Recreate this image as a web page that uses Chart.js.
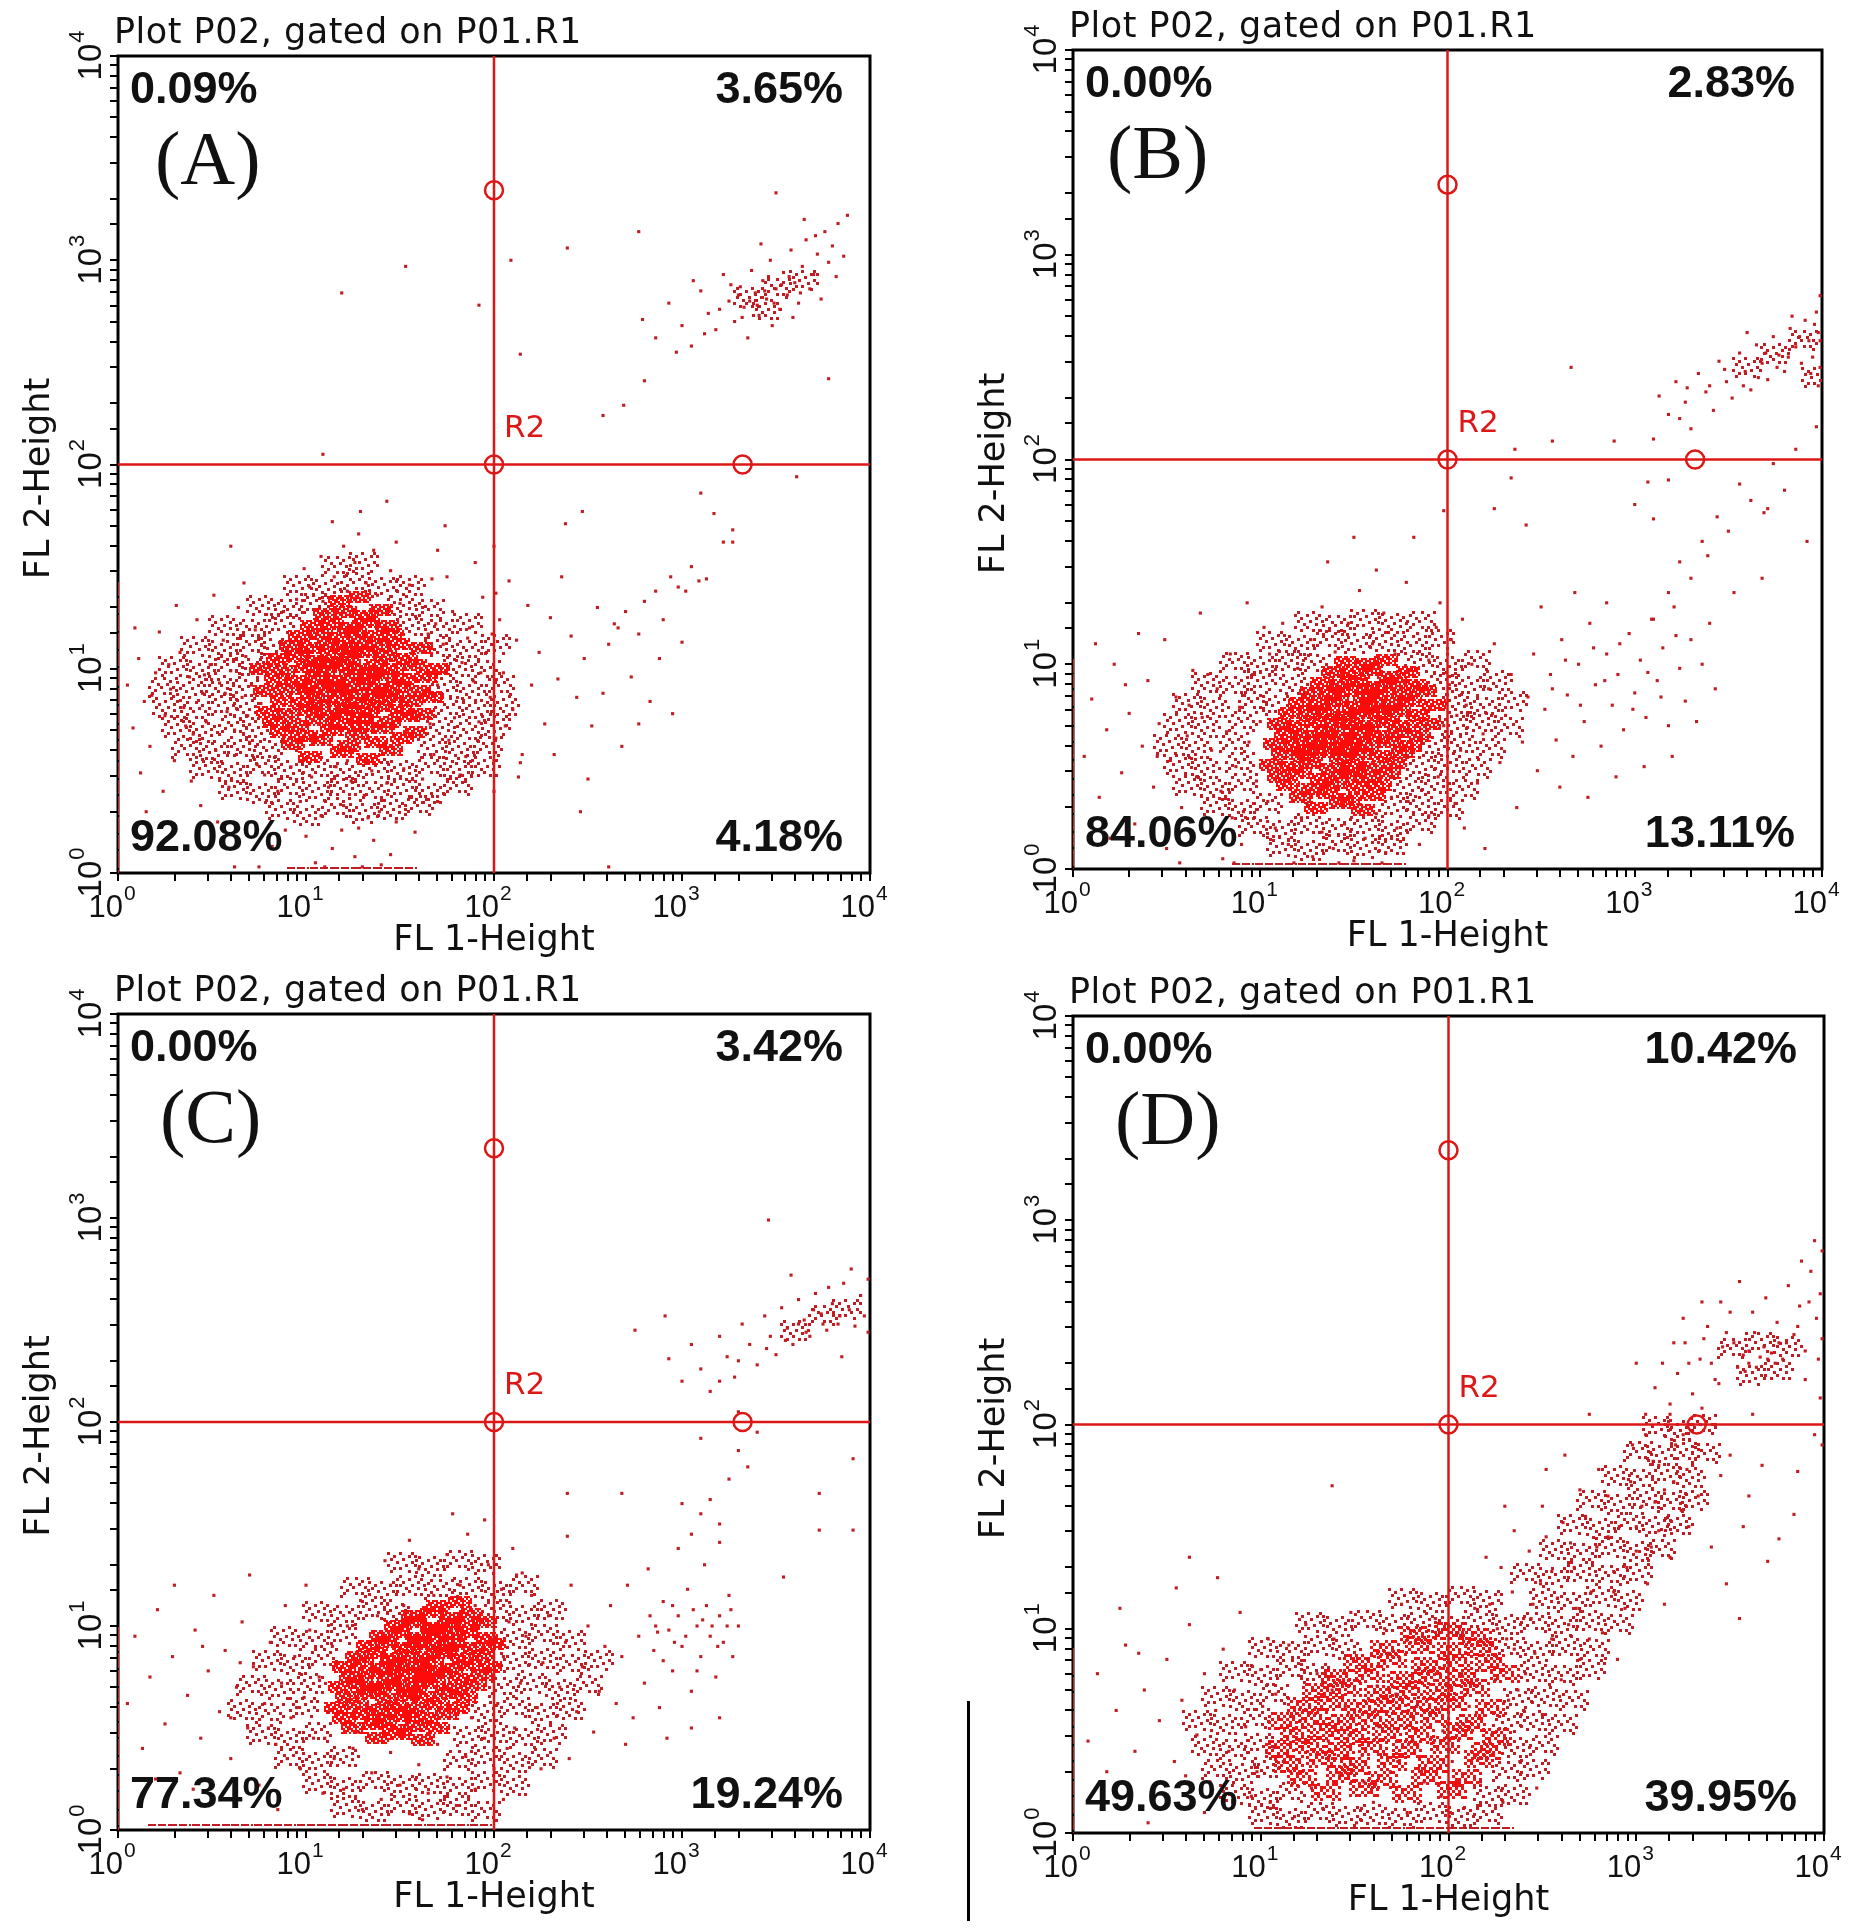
<!DOCTYPE html>
<html>
<head>
<meta charset="utf-8">
<title>Plot P02, gated on P01.R1</title>
<script src="https://cdn.jsdelivr.net/npm/chart.js@4.4.0/dist/chart.umd.min.js"></script>
<style>
  html, body { margin: 0; padding: 0; background: #fff; }
  body { width: 1854px; height: 1930px; position: relative; overflow: hidden; }
  canvas { position: absolute; }
  #stray { position: absolute; left: 967px; top: 1701px; width: 3px; height: 220px; background: #000; }
</style>
</head>
<body>
<canvas id="plotA"></canvas>
<canvas id="plotB"></canvas>
<canvas id="plotC"></canvas>
<canvas id="plotD"></canvas>
<div id="stray"></div>
<script>
// ---- values ----
// decades used for the tick labels (10^k)
const decades = [0, 1, 2, 3, 4];
const panelLetters = ['(A)', '(B)', '(C)', '(D)'];
const pctUpperLeft  = ['0.09%', '0.00%', '0.00%', '0.00%'];
const pctUpperRight = ['3.65%', '2.83%', '3.42%', '10.42%'];
const pctLowerLeft  = ['92.08%', '84.06%', '77.34%', '49.63%'];
const pctLowerRight = ['4.18%', '13.11%', '19.24%', '39.95%'];

// quadrant gate R2 and its handles (FL1, FL2)
const gateFL1 = 100;
const gateFL2 = 100;
const gateHandles = [[100, 2200], [100, 100], [2100, 100]];

// events, as pairs of log10(FL1), log10(FL2)
// dense = core of the population, halo = medium density, sparse = single events
const denseA = [
  1.02,0.57, 1.19,0.59, 1.33,0.56, 1.45,0.60,
  0.93,0.63, 1.08,0.65, 1.23,0.62, 1.37,0.64, 1.51,0.66,
  0.87,0.69, 1.00,0.67, 1.14,0.70, 1.27,0.68, 1.41,0.71, 1.58,0.69,
  0.83,0.74, 0.95,0.72, 1.06,0.75, 1.18,0.73, 1.30,0.76, 1.44,0.74, 1.54,0.77,
  0.80,0.79, 0.91,0.78, 1.02,0.80, 1.12,0.78, 1.22,0.81, 1.33,0.79, 1.40,0.82, 1.50,0.80, 1.62,0.78,
  0.87,0.84, 0.98,0.83, 1.08,0.86, 1.17,0.84, 1.26,0.87, 1.36,0.85, 1.46,0.86, 1.56,0.84, 1.67,0.86,
  0.78,0.89, 0.91,0.90, 1.03,0.88, 1.12,0.91, 1.21,0.89, 1.29,0.92, 1.38,0.90, 1.48,0.91, 1.60,0.89,
  0.84,0.95, 0.96,0.94, 1.06,0.96, 1.15,0.94, 1.24,0.97, 1.33,0.95, 1.42,0.97, 1.52,0.95, 1.64,0.96,
  0.76,1.00, 0.89,0.99, 1.00,1.01, 1.10,0.99, 1.19,1.02, 1.28,1.00, 1.37,1.02, 1.47,1.00, 1.58,1.02, 1.70,1.00,
  0.85,1.05, 0.96,1.06, 1.05,1.04, 1.14,1.07, 1.23,1.05, 1.32,1.08, 1.42,1.06, 1.53,1.05,
  0.92,1.11, 1.02,1.10, 1.11,1.12, 1.20,1.10, 1.29,1.13, 1.39,1.11, 1.49,1.12, 1.61,1.10,
  0.97,1.16, 1.08,1.17, 1.17,1.15, 1.26,1.18, 1.36,1.16, 1.46,1.17,
  1.03,1.21, 1.14,1.22, 1.23,1.20, 1.33,1.23, 1.43,1.21,
  1.10,1.27, 1.21,1.28, 1.31,1.26, 1.40,1.29,
  1.18,1.33, 1.28,1.35,
  1.07,0.82, 1.27,0.83, 1.17,0.92, 1.35,0.98, 1.11,1.03, 1.25,1.08, 1.43,0.88, 1.01,0.91, 1.31,0.72, 1.19,0.77
];
const haloA = [
  0.86,0.31, 1.01,0.28, 1.16,0.32, 1.31,0.29, 1.46,0.31, 1.60,0.33,
  0.61,0.41, 0.76,0.39, 0.91,0.42, 1.06,0.40, 1.21,0.43, 1.36,0.40, 1.51,0.42, 1.66,0.39, 1.81,0.43,
  0.46,0.51, 0.61,0.49, 0.76,0.52, 0.91,0.50, 1.06,0.52, 1.21,0.49, 1.36,0.51, 1.51,0.50, 1.66,0.52, 1.81,0.49, 1.96,0.52,
  0.36,0.61, 0.51,0.59, 0.66,0.62, 0.80,0.60, 1.67,0.61, 1.82,0.59, 1.97,0.62,
  0.31,0.71, 0.46,0.69, 0.61,0.72, 0.74,0.70, 1.72,0.71, 1.86,0.69, 2.01,0.72,
  0.26,0.81, 0.41,0.79, 0.56,0.82, 0.69,0.80, 1.76,0.81, 1.91,0.79, 2.06,0.82,
  0.24,0.91, 0.39,0.89, 0.54,0.92, 0.67,0.90, 1.73,0.91, 1.88,0.89, 2.03,0.92,
  0.29,1.01, 0.44,0.99, 0.59,1.02, 0.70,1.00, 1.81,1.01, 1.96,0.99,
  0.41,1.11, 0.56,1.09, 0.71,1.12, 0.82,1.10, 1.71,1.11, 1.86,1.09, 2.01,1.12,
  0.56,1.21, 0.71,1.19, 0.86,1.22, 1.56,1.21, 1.71,1.19, 1.86,1.22,
  0.76,1.31, 0.91,1.29, 1.05,1.32, 1.51,1.31, 1.66,1.29,
  0.96,1.41, 1.11,1.39, 1.26,1.42, 1.41,1.40, 1.56,1.41,
  1.16,1.50, 1.31,1.52,
  3.35,2.82, 3.50,2.86, 3.65,2.90, 3.45,2.76
];
const sparseA = [
  0.05,0.92, 0.08,0.71, 0.11,1.05, 0.14,0.84, 0.17,0.62, 0.20,0.98, 0.22,1.18, 0.25,0.77, 0.28,0.90, 0.30,0.55,
  0.33,1.08, 0.35,0.81, 0.38,0.96, 0.40,0.68, 0.42,1.24, 0.45,0.88, 0.47,0.74, 0.49,1.02, 0.52,0.60, 0.54,0.93,
  0.56,1.14, 0.58,0.79, 0.60,0.99, 0.62,0.70, 0.64,1.30, 0.66,0.86, 0.68,1.06, 0.70,0.64, 0.71,0.92, 0.73,1.19,
  0.74,0.53, 0.76,0.83, 0.18,0.87, 0.27,1.02, 0.36,0.72, 0.46,0.97, 0.57,0.88, 0.63,0.58, 0.69,0.77, 0.12,0.49,
  0.24,0.40, 0.39,0.45, 0.51,1.36, 0.31,1.31, 0.09,1.20, 0.15,0.30, 0.44,0.33, 0.59,0.42, 0.67,1.42, 0.53,0.25,
  0.78,0.48, 0.85,0.40, 0.92,0.52, 0.97,0.35, 1.03,0.47, 1.08,0.28, 1.12,0.42, 1.16,0.52, 1.20,0.33, 1.24,0.45,
  1.28,0.22, 1.31,0.38, 1.35,0.50, 1.39,0.30, 1.43,0.44, 1.48,0.25, 1.52,0.51, 1.56,0.37, 1.62,0.46, 1.68,0.58,
  1.00,0.18, 1.14,0.12, 1.26,0.08, 1.36,0.16, 1.05,0.05, 0.89,0.21, 1.45,0.09, 1.22,0.55, 0.95,0.60, 1.19,0.21,
  1.33,0.27, 1.58,0.20, 0.82,0.13, 1.70,0.35, 1.10,0.03, 1.30,0.03, 1.40,0.04, 0.75,0.03, 0.62,0.03,
  0.88,1.28, 0.95,1.34, 1.02,1.40, 1.09,1.33, 1.15,1.45, 1.22,1.38, 1.26,1.52, 1.32,1.42, 1.38,1.36, 1.45,1.48,
  1.50,1.32, 1.55,1.41, 1.62,1.30, 1.67,1.44, 1.20,1.60, 1.36,1.58, 1.08,1.55, 1.48,1.62, 0.99,1.49, 1.28,1.66,
  1.14,1.72, 1.70,1.58,
  1.66,0.73, 1.70,0.92, 1.73,1.12, 1.76,0.65, 1.78,1.28, 1.80,0.84, 1.83,1.03, 1.85,0.57, 1.87,1.20, 1.89,0.94,
  1.92,0.74, 1.94,1.35, 1.96,1.08, 1.98,0.86, 2.01,0.66, 2.03,1.24, 2.05,0.98, 2.08,1.43, 2.10,0.80, 2.12,1.14,
  2.15,0.58, 2.18,1.31, 2.20,0.92, 1.75,1.45, 1.82,0.48, 1.90,1.52, 2.00,1.60, 1.72,1.00, 1.79,0.76, 1.86,1.15,
  1.93,0.98, 1.99,1.17, 2.06,0.72, 1.69,1.22, 1.63,0.95, 1.65,1.17, 2.00,0.40, 2.00,0.55, 2.01,1.37, 2.13,0.47,
  2.24,1.08, 2.27,0.73, 2.30,1.25, 2.34,0.95, 2.38,1.71, 2.41,1.16, 2.44,0.86, 2.47,1.77, 2.50,0.46, 2.52,0.72,
  2.55,1.30, 2.58,0.88, 2.61,1.12, 2.64,1.22, 2.66,1.20, 2.70,1.28, 2.73,0.96, 2.77,1.17, 2.77,0.73, 2.80,1.33,
  2.83,0.84, 2.86,1.38, 2.90,1.24, 2.94,1.45, 2.98,1.40, 3.02,1.38, 3.05,1.50, 3.09,1.43, 3.13,1.44, 3.17,1.76,
  3.22,1.62, 3.27,1.68, 3.27,1.62, 2.14,0.54, 2.61,0.03, 2.36,1.45, 2.48,1.05, 3.00,1.13, 3.10,1.86, 2.68,0.62,
  2.32,0.58, 2.88,1.05, 2.95,0.78,
  2.79,2.71, 2.86,2.62, 2.93,2.79, 3.00,2.68, 3.05,2.58, 3.10,2.85, 3.14,2.74, 3.18,2.66, 3.22,2.93, 3.25,2.80,
  3.28,2.70, 3.31,2.87, 3.33,2.77, 3.35,2.62, 3.37,2.95, 3.39,2.84, 3.41,2.73, 3.43,2.90, 3.45,2.81, 3.47,3.00,
  3.48,2.68, 3.50,2.86, 3.52,2.76, 3.54,2.94, 3.56,2.83, 3.58,3.05, 3.60,2.89, 3.62,2.79, 3.64,2.97, 3.66,3.10,
  3.68,2.86, 3.70,2.93, 3.72,3.03, 3.74,2.81, 3.76,3.14, 3.78,2.99, 3.80,3.07, 3.83,3.18, 3.86,3.02, 3.88,3.22,
  3.30,2.83, 3.36,2.80, 3.44,2.85, 3.49,2.79, 3.53,2.88, 3.40,2.78, 3.32,2.72, 3.46,2.92, 3.57,2.92, 3.63,2.84,
  3.26,2.88, 3.20,2.76, 3.12,2.64, 3.06,2.90, 2.97,2.55, 3.65,3.20, 3.71,3.12, 3.82,2.92, 3.59,2.72, 3.42,3.08,
  1.19,2.84, 1.53,2.97, 2.39,3.06, 2.77,3.14, 3.50,3.33, 2.14,2.54, 2.58,2.24, 2.69,2.29, 2.80,2.41, 1.09,2.05,
  3.78,2.42, 3.61,1.94, 1.92,2.78, 2.09,3.00, 1.29,1.77, 1.43,1.82, 2.46,0.30, 1.74,1.70, 0.60,1.60
];
// events piled on the FL1 minimum (log10 FL2) and on the FL2 minimum (log10 FL1)
const edgeLeftA = [0.04, 0.13, 0.21, 0.30, 0.40, 0.48, 0.57, 0.67, 0.75, 0.84, 0.93, 1.03, 1.11, 1.20, 1.29, 1.37];
const edgeBottomA = [0.96, 1.08, 1.19, 1.31, 1.42, 1.53];

const denseB = [
  1.30,0.30, 1.43,0.32, 1.55,0.29,
  1.22,0.35, 1.36,0.37, 1.48,0.34, 1.61,0.36,
  1.15,0.41, 1.28,0.39, 1.40,0.42, 1.52,0.40, 1.64,0.41,
  1.10,0.45, 1.21,0.47, 1.33,0.44, 1.45,0.46, 1.57,0.45, 1.69,0.47,
  1.06,0.51, 1.17,0.50, 1.27,0.52, 1.38,0.49, 1.49,0.51, 1.60,0.50, 1.72,0.52,
  1.12,0.56, 1.23,0.55, 1.33,0.57, 1.43,0.54, 1.54,0.56, 1.65,0.55, 1.76,0.57,
  1.08,0.61, 1.19,0.60, 1.29,0.62, 1.39,0.59, 1.48,0.61, 1.58,0.60, 1.69,0.62, 1.80,0.60,
  1.14,0.66, 1.24,0.65, 1.34,0.67, 1.44,0.64, 1.53,0.66, 1.63,0.65, 1.73,0.67, 1.85,0.65,
  1.10,0.71, 1.20,0.70, 1.30,0.72, 1.40,0.69, 1.49,0.71, 1.58,0.70, 1.68,0.72, 1.78,0.70, 1.90,0.71,
  1.16,0.76, 1.26,0.75, 1.36,0.77, 1.45,0.74, 1.54,0.76, 1.64,0.75, 1.74,0.77, 1.84,0.75,
  1.21,0.81, 1.31,0.80, 1.41,0.82, 1.50,0.79, 1.60,0.81, 1.70,0.80, 1.80,0.82, 1.93,0.80,
  1.27,0.86, 1.37,0.85, 1.46,0.87, 1.56,0.84, 1.66,0.86, 1.76,0.85, 1.88,0.87,
  1.33,0.91, 1.43,0.90, 1.52,0.92, 1.62,0.89, 1.72,0.91, 1.83,0.90,
  1.39,0.96, 1.49,0.95, 1.59,0.97, 1.69,0.94, 1.79,0.96,
  1.46,1.01, 1.57,1.00, 1.67,1.02,
  1.45,0.58, 1.55,0.68, 1.35,0.63, 1.62,0.78, 1.50,0.48, 1.40,0.73, 1.58,0.88, 1.25,0.58
];
const haloB = [
  1.11,0.11, 1.26,0.09, 1.41,0.12, 1.56,0.10, 1.71,0.12,
  0.96,0.21, 1.11,0.19, 1.26,0.22, 1.41,0.20, 1.56,0.21, 1.71,0.19, 1.86,0.22,
  0.76,0.31, 0.91,0.29, 1.04,0.32, 1.71,0.30, 1.86,0.32, 2.01,0.29,
  0.61,0.41, 0.76,0.39, 0.91,0.42, 1.79,0.40, 1.94,0.42, 2.09,0.39,
  0.56,0.51, 0.71,0.49, 0.89,0.52, 1.86,0.50, 2.01,0.52, 2.16,0.49,
  0.51,0.61, 0.66,0.59, 0.86,0.62, 1.93,0.60, 2.08,0.62, 2.23,0.59,
  0.56,0.71, 0.71,0.69, 0.91,0.72, 2.03,0.70, 2.18,0.72, 2.33,0.69,
  0.61,0.81, 0.76,0.79, 0.96,0.82, 1.09,0.80, 2.05,0.81, 2.20,0.79, 2.35,0.82,
  0.71,0.91, 0.86,0.89, 1.01,0.92, 1.18,0.90, 1.97,0.91, 2.12,0.89, 2.27,0.92,
  0.86,1.01, 1.01,0.99, 1.16,1.02, 1.30,1.00, 1.85,1.01, 2.00,0.99, 2.15,1.02,
  1.06,1.11, 1.21,1.09, 1.36,1.12, 1.51,1.10, 1.66,1.11, 1.81,1.09, 1.96,1.12,
  1.26,1.21, 1.41,1.19, 1.56,1.22, 1.71,1.20, 1.86,1.21,
  3.60,2.45, 3.75,2.52, 3.90,2.58, 3.97,2.40
];
const sparseB = [
  0.06,0.55, 0.10,0.83, 0.14,0.35, 0.18,0.68, 0.22,1.00, 0.26,0.47, 0.30,0.76, 0.33,0.22, 0.37,0.60, 0.40,0.92,
  0.43,0.40, 0.46,0.71, 0.49,1.12, 0.52,0.53, 0.55,0.84, 0.58,0.30, 0.61,0.65, 0.64,0.97, 0.66,0.45, 0.69,0.74,
  0.72,0.18, 0.74,0.58, 0.77,0.88, 0.79,0.38, 0.82,0.67, 0.84,1.05, 0.87,0.50, 0.89,0.79, 0.91,0.28, 0.94,0.62,
  0.96,0.95, 0.98,0.43, 1.00,0.72, 1.02,1.18, 1.04,0.33, 0.20,0.15, 0.35,1.15, 0.50,0.10, 0.68,1.25, 0.80,0.05,
  0.93,1.30, 0.45,0.55, 0.62,0.80, 0.85,0.25, 0.12,1.10, 0.28,0.90, 0.72,0.95, 0.90,0.12, 0.57,0.03, 0.86,0.03,
  1.08,0.20, 1.15,0.12, 1.22,0.25, 1.28,0.06, 1.33,0.18, 1.39,0.10, 1.45,0.22, 1.50,0.04, 1.56,0.15, 1.62,0.27,
  1.67,0.08, 1.73,0.20, 1.79,0.33, 1.85,0.12, 1.90,0.26, 1.18,0.03, 1.42,0.03, 1.65,0.03, 1.25,0.32, 1.70,0.35,
  1.05,1.05, 1.12,1.20, 1.20,0.98, 1.27,1.12, 1.33,1.28, 1.40,1.06, 1.47,1.20, 1.53,1.36, 1.60,1.10, 1.66,1.25,
  1.72,1.05, 1.78,1.40, 1.84,1.15, 1.90,1.02, 1.96,1.30, 2.02,1.12, 2.08,1.22, 1.50,1.62, 1.62,1.46, 1.36,1.50,
  1.82,1.62, 1.98,1.75,
  1.95,0.45, 1.98,0.70, 2.01,0.90, 2.04,0.32, 2.07,0.58, 2.10,0.80, 2.13,1.00, 2.16,0.42, 2.19,0.66, 2.22,0.88,
  2.25,1.10, 2.28,0.52, 2.31,0.75, 2.34,0.95, 2.37,0.30, 2.40,0.62, 2.43,0.84, 2.46,1.05, 2.48,0.48, 2.00,0.62,
  2.00,0.85, 2.00,1.05, 2.09,0.20, 2.20,0.10, 1.94,1.18, 2.05,0.75,
  2.52,0.78, 2.55,0.95, 2.58,0.63, 2.61,1.12, 2.64,0.85, 2.67,0.55, 2.70,1.00, 2.73,0.72, 2.76,1.20, 2.79,0.90,
  2.82,0.60, 2.85,1.05, 2.88,0.80, 2.91,0.95, 2.94,0.68, 2.97,1.15, 3.00,0.86, 3.03,1.02, 3.06,0.74, 3.09,1.22,
  3.12,0.92, 3.15,1.08, 3.18,0.70, 3.21,1.28, 3.24,0.98, 3.27,0.82, 3.30,1.12, 3.33,0.72, 3.36,1.00, 3.40,1.20,
  2.60,0.40, 2.75,0.35, 2.90,0.45, 3.05,0.50, 2.68,1.35, 2.85,1.30, 3.20,0.55, 2.50,1.28, 3.43,0.88,
  2.56,0.88, 2.63,1.02, 2.71,0.80, 2.78,1.08, 2.84,0.92, 2.92,1.10, 2.99,0.78, 3.07,0.96, 3.14,0.84, 3.22,1.14,
  3.10,1.22, 3.18,1.35, 3.24,1.50, 3.30,1.42, 3.36,1.60, 3.39,1.53, 3.44,1.72, 3.50,1.65, 3.53,1.35, 3.56,1.88,
  3.62,1.80, 3.68,1.42, 3.71,1.76, 3.74,1.98, 3.80,1.85, 3.86,2.05, 3.18,1.90, 3.07,1.89, 3.10,1.71, 3.00,1.78,
  2.25,1.76, 2.34,1.91, 3.69,1.74, 3.97,2.16, 3.92,1.60,
  3.13,2.31, 3.18,2.22, 3.22,2.38, 3.27,2.28, 3.30,2.15, 3.34,2.42, 3.38,2.33, 3.42,2.24, 3.45,2.48, 3.49,2.38,
  3.52,2.30, 3.56,2.52, 3.59,2.43, 3.62,2.34, 3.65,2.56, 3.68,2.47, 3.71,2.39, 3.74,2.60, 3.77,2.51, 3.80,2.43,
  3.83,2.64, 3.86,2.55, 3.89,2.47, 3.91,2.68, 3.93,2.58, 3.95,2.50, 3.97,2.72, 3.98,2.62, 3.99,2.45, 3.99,2.80,
  3.98,2.36, 3.96,2.66, 3.88,2.60, 3.84,2.70, 3.76,2.45, 3.70,2.52, 3.58,2.36, 3.48,2.44, 3.40,2.36, 3.28,2.35,
  3.24,2.20, 3.60,2.62, 3.82,2.50, 3.94,2.42, 3.99,2.58, 3.66,2.40,
  2.66,2.45, 2.56,2.09, 2.89,2.09, 3.10,2.10, 2.36,2.05, 2.42,1.68
];
const edgeLeftB = [0.03, 0.12, 0.20, 0.29, 0.38, 0.46, 0.55, 0.64, 0.72, 0.81, 0.90, 0.97];
const edgeBottomB = [0.91, 1.03, 1.14, 1.26, 1.37, 1.49, 1.61, 1.72];

const denseC = [
  1.38,0.45, 1.50,0.47, 1.62,0.44,
  1.25,0.50, 1.36,0.52, 1.47,0.49, 1.58,0.51, 1.70,0.50,
  1.20,0.55, 1.31,0.57, 1.42,0.54, 1.53,0.56, 1.64,0.55, 1.75,0.57,
  1.16,0.60, 1.27,0.62, 1.38,0.59, 1.48,0.61, 1.59,0.60, 1.70,0.62, 1.81,0.60,
  1.22,0.65, 1.32,0.67, 1.43,0.64, 1.53,0.66, 1.63,0.65, 1.74,0.67, 1.85,0.65,
  1.18,0.70, 1.29,0.72, 1.39,0.69, 1.49,0.71, 1.58,0.70, 1.68,0.72, 1.78,0.69, 1.90,0.71,
  1.24,0.75, 1.34,0.77, 1.44,0.74, 1.53,0.76, 1.63,0.75, 1.72,0.77, 1.82,0.74, 1.94,0.76,
  1.20,0.80, 1.30,0.82, 1.40,0.79, 1.49,0.81, 1.58,0.80, 1.67,0.82, 1.77,0.79, 1.87,0.81, 1.98,0.80,
  1.27,0.85, 1.37,0.87, 1.46,0.84, 1.55,0.86, 1.64,0.85, 1.73,0.87, 1.83,0.84, 1.93,0.86,
  1.33,0.90, 1.43,0.92, 1.52,0.89, 1.61,0.91, 1.70,0.90, 1.79,0.92, 1.89,0.89, 2.00,0.91,
  1.40,0.95, 1.50,0.97, 1.59,0.94, 1.68,0.96, 1.77,0.95, 1.86,0.97, 1.96,0.94,
  1.48,1.00, 1.58,1.02, 1.67,0.99, 1.76,1.01, 1.85,1.00, 1.95,1.02,
  1.57,1.05, 1.67,1.07, 1.77,1.04, 1.88,1.06,
  1.70,1.10, 1.82,1.12,
  1.55,0.68, 1.65,0.78, 1.45,0.80, 1.75,0.88, 1.60,0.92, 1.50,0.58, 1.70,0.98, 1.35,0.70
];
const haloC = [
  1.21,0.11, 1.36,0.09, 1.51,0.12, 1.66,0.10, 1.81,0.12, 1.96,0.09,
  1.06,0.23, 1.21,0.21, 1.36,0.24, 1.51,0.22, 1.66,0.23, 1.81,0.21, 1.96,0.24, 2.11,0.22,
  0.91,0.35, 1.06,0.33, 1.21,0.36, 1.81,0.34, 1.96,0.36, 2.11,0.33, 2.26,0.35,
  0.76,0.47, 0.91,0.45, 1.06,0.48, 1.86,0.46, 2.01,0.48, 2.16,0.45, 2.31,0.47,
  0.66,0.59, 0.81,0.57, 0.99,0.60, 1.96,0.58, 2.11,0.60, 2.26,0.57, 2.41,0.59,
  0.71,0.71, 0.86,0.69, 1.03,0.72, 2.05,0.70, 2.20,0.72, 2.35,0.69, 2.50,0.71,
  0.79,0.83, 0.94,0.81, 1.09,0.84, 2.11,0.82, 2.26,0.84, 2.41,0.81, 2.56,0.83,
  0.89,0.95, 1.04,0.93, 1.19,0.96, 2.11,0.94, 2.26,0.96, 2.41,0.93,
  1.06,1.07, 1.21,1.05, 1.36,1.08, 1.49,1.06, 2.01,1.07, 2.16,1.05, 2.31,1.08,
  1.26,1.19, 1.41,1.17, 1.56,1.20, 1.71,1.18, 1.86,1.19, 2.01,1.17, 2.16,1.20,
  1.51,1.31, 1.66,1.29, 1.81,1.32, 1.96,1.30,
  3.60,2.45, 3.75,2.52, 3.88,2.55
];
const sparseC = [
  0.05,0.62, 0.09,0.95, 0.13,0.40, 0.17,0.75, 0.21,1.08, 0.25,0.52, 0.29,0.85, 0.33,0.28, 0.37,0.66, 0.41,0.98,
  0.44,0.45, 0.48,0.78, 0.51,1.15, 0.54,0.58, 0.57,0.88, 0.60,0.35, 0.63,0.70, 0.66,1.02, 0.69,0.50, 0.72,0.80,
  0.75,0.22, 0.78,0.62, 0.81,0.92, 0.84,0.42, 0.87,0.72, 0.89,1.10, 0.92,0.55, 0.94,0.85, 0.97,0.30, 0.99,0.65,
  1.02,0.98, 1.04,0.45, 1.07,0.75, 1.09,0.18, 1.12,0.58, 1.14,0.90, 0.30,1.20, 0.55,0.15, 0.70,1.25, 0.85,0.10,
  0.40,0.20, 0.65,0.82, 0.90,0.35, 0.20,0.25, 1.00,1.20, 0.95,0.60, 0.80,0.50, 0.60,0.55, 0.45,0.90,
  1.15,0.35, 1.20,0.20, 1.25,0.40, 1.30,0.10, 1.35,0.28, 1.40,0.15, 1.45,0.38, 1.50,0.22, 1.55,0.08, 1.60,0.32,
  1.65,0.18, 1.70,0.42, 1.75,0.26, 1.80,0.12, 1.85,0.36, 1.90,0.20, 1.95,0.45, 2.00,0.30, 2.05,0.15, 1.28,0.48,
  1.72,0.50, 1.88,0.55, 1.10,0.45, 1.62,0.05,
  1.22,1.00, 1.30,1.12, 1.38,1.05, 1.45,1.20, 1.52,1.10, 1.60,1.28, 1.68,1.15, 1.75,1.35, 1.82,1.20, 1.90,1.10,
  1.97,1.30, 2.04,1.18, 2.10,1.38, 1.55,1.42, 1.86,1.45, 2.15,1.26, 1.42,1.32, 1.95,1.52, 1.78,1.55,
  2.02,0.62, 2.05,0.85, 2.08,1.02, 2.11,0.50, 2.14,0.72, 2.17,0.95, 2.20,1.15, 2.23,0.60, 2.26,0.82, 2.29,1.05,
  2.32,0.45, 2.35,0.70, 2.38,0.92, 2.41,1.20, 2.44,0.58, 2.47,0.80, 2.50,1.00, 2.53,0.48, 2.56,0.68, 2.59,0.90,
  2.00,0.75, 2.00,0.95, 2.07,0.40, 2.25,0.30, 2.40,0.35, 2.12,1.25,
  2.62,1.10, 2.65,0.62, 2.68,0.85, 2.71,1.20, 2.74,0.55, 2.77,0.95, 2.80,0.72, 2.83,1.05, 2.85,0.88, 2.88,0.60,
  2.90,1.12, 2.93,0.98, 2.95,0.78, 2.98,1.05, 3.00,0.90, 3.03,1.18, 3.05,0.68, 3.08,1.00, 3.10,0.85, 3.13,1.10,
  3.15,0.95, 3.18,0.75, 3.20,1.05, 3.22,0.92, 3.25,1.15, 3.27,0.85, 3.30,1.00, 3.05,0.50, 2.92,0.45, 3.20,0.55,
  2.70,0.42, 2.82,1.28, 3.12,1.30, 2.96,0.92, 3.16,1.00, 3.06,1.08, 2.86,1.00, 3.24,1.00,
  2.87,0.97, 2.95,1.10, 3.02,0.95, 3.11,1.03, 3.19,0.90, 3.26,1.08, 2.90,0.83, 3.08,0.78,
  2.98,1.38, 3.05,1.45, 3.10,1.55, 3.15,1.62, 3.20,1.50, 3.20,1.41, 3.25,1.72, 3.30,1.86, 3.35,1.78, 3.00,1.60,
  2.39,1.65, 2.68,1.65, 3.54,1.24, 3.73,1.47, 3.73,1.65, 3.91,1.82, 3.91,1.47, 3.40,1.95, 3.10,1.92, 2.39,1.44,
  2.93,2.31, 3.00,2.20, 3.05,2.38, 3.10,2.26, 3.15,2.15, 3.20,2.42, 3.24,2.32, 3.28,2.22, 3.32,2.48, 3.36,2.38,
  3.40,2.28, 3.44,2.52, 3.47,2.42, 3.50,2.33, 3.53,2.56, 3.56,2.46, 3.59,2.38, 3.62,2.60, 3.65,2.50, 3.68,2.42,
  3.71,2.63, 3.74,2.53, 3.77,2.45, 3.80,2.58, 3.83,2.48, 3.86,2.68, 3.89,2.55, 3.92,2.47, 3.95,2.62, 3.97,2.52,
  3.99,2.70, 3.99,2.44, 3.55,2.40, 3.66,2.44, 3.75,2.48, 3.84,2.52, 3.62,2.48, 3.70,2.55, 3.45,2.36, 3.30,2.30,
  3.20,2.20, 3.90,2.75, 3.78,2.66,
  3.46,2.99, 2.91,2.52, 3.58,2.72, 2.75,2.45, 3.30,2.05, 3.85,2.32
];
const edgeLeftC = [0.04, 0.12, 0.21, 0.29, 0.38, 0.47, 0.55, 0.64, 0.72, 0.81, 0.89, 0.94];
const edgeBottomC = [0.22, 0.33, 0.45, 0.56, 0.66, 0.78, 0.89, 1.01, 1.12, 1.24, 1.35, 1.47, 1.58, 1.70, 1.81, 1.93];

const denseD = [
  1.35,0.20, 1.55,0.22, 1.78,0.19, 2.02,0.21,
  1.22,0.27, 1.43,0.29, 1.65,0.26, 1.88,0.28, 2.10,0.27,
  1.15,0.34, 1.32,0.36, 1.50,0.33, 1.70,0.35, 1.92,0.34, 2.16,0.36,
  1.10,0.41, 1.26,0.43, 1.42,0.40, 1.60,0.42, 1.78,0.41, 1.98,0.43, 2.20,0.40,
  1.18,0.48, 1.34,0.50, 1.50,0.47, 1.67,0.49, 1.85,0.48, 2.05,0.50, 2.26,0.47,
  1.12,0.55, 1.28,0.57, 1.44,0.54, 1.60,0.56, 1.76,0.55, 1.93,0.57, 2.12,0.54,
  1.22,0.62, 1.38,0.64, 1.54,0.61, 1.70,0.63, 1.86,0.62, 2.02,0.64, 2.22,0.61,
  1.30,0.69, 1.46,0.71, 1.63,0.68, 1.80,0.70, 1.96,0.69, 2.14,0.71,
  1.40,0.76, 1.58,0.78, 1.75,0.75, 1.92,0.77, 2.08,0.76, 2.30,0.78,
  1.52,0.83, 1.70,0.85, 1.88,0.82, 2.05,0.84, 2.22,0.83,
  1.66,0.90, 1.85,0.92, 2.02,0.89, 2.18,0.91,
  1.82,0.97, 2.00,0.99, 2.15,0.96
];
const haloD = [
  1.01,0.09, 1.16,0.07, 1.31,0.10, 1.46,0.08, 1.61,0.09, 1.76,0.07, 1.91,0.10, 2.06,0.08, 2.21,0.09,
  0.86,0.19, 1.01,0.17, 1.16,0.20, 2.21,0.18, 2.36,0.19,
  0.76,0.31, 0.91,0.29, 1.03,0.32, 2.31,0.30, 2.46,0.31,
  0.71,0.43, 0.86,0.41, 0.99,0.44, 2.36,0.42, 2.51,0.43,
  0.66,0.55, 0.81,0.53, 0.97,0.56, 2.31,0.54, 2.46,0.55, 2.61,0.53,
  0.76,0.67, 0.91,0.65, 1.07,0.68, 2.37,0.66, 2.52,0.67, 2.67,0.65,
  0.86,0.79, 1.01,0.77, 1.16,0.80, 1.29,0.78, 2.46,0.79, 2.61,0.77, 2.76,0.80,
  1.01,0.91, 1.16,0.89, 1.31,0.92, 1.46,0.90, 2.33,0.91, 2.48,0.89, 2.63,0.92, 2.78,0.90,
  1.26,1.03, 1.41,1.01, 1.56,1.04, 1.71,1.02, 1.86,1.03, 2.01,1.01, 2.16,1.04, 2.31,1.02, 2.46,1.03, 2.61,1.01, 2.76,1.04, 2.91,1.02,
  1.76,1.15, 1.91,1.13, 2.06,1.16, 2.21,1.14, 2.51,1.15, 2.66,1.13, 2.81,1.16, 2.96,1.14,
  2.41,1.27, 2.56,1.25, 2.71,1.28, 2.86,1.26, 3.01,1.27,
  2.56,1.39, 2.71,1.37, 2.86,1.40, 3.01,1.38, 3.13,1.39,
  2.66,1.51, 2.81,1.49, 2.96,1.52, 3.11,1.50, 3.23,1.51,
  2.76,1.63, 2.91,1.61, 3.06,1.64, 3.19,1.62, 3.31,1.63,
  2.89,1.75, 3.03,1.73, 3.16,1.76, 3.29,1.74,
  3.01,1.87, 3.13,1.85, 3.26,1.88, 3.37,1.86,
  3.11,1.99, 3.23,1.97, 3.35,2.00,
  3.61,2.24, 3.76,2.27,
  3.51,2.37, 3.66,2.40, 3.81,2.38
];
const sparseD = [
  0.08,0.45, 0.13,0.78, 0.18,0.30, 0.23,0.60, 0.28,0.92, 0.33,0.40, 0.38,0.70, 0.42,0.20, 0.46,0.55, 0.50,0.85,
  0.54,0.35, 0.58,0.65, 0.62,1.02, 0.66,0.48, 0.70,0.78, 0.73,0.25, 0.76,0.60, 0.80,0.90, 0.83,0.40, 0.86,0.70,
  0.89,1.08, 0.92,0.52, 0.95,0.82, 0.98,0.30, 1.01,0.62, 1.04,0.95, 1.07,0.42, 0.25,1.10, 0.55,1.20, 0.85,0.15,
  0.40,0.05, 0.70,0.10, 0.15,0.12, 0.95,0.18, 0.60,0.28, 0.35,0.88, 0.77,1.25,
  1.00,0.80, 1.05,0.15, 1.08,0.68, 1.12,0.35, 1.15,0.92, 1.18,0.08, 1.21,0.55, 1.24,1.02, 1.27,0.22, 1.30,0.78,
  1.33,0.12, 1.36,0.45, 1.39,0.95, 1.42,0.28, 1.45,0.62, 1.48,1.08, 1.51,0.05, 1.54,0.38, 1.57,0.85, 1.60,0.15,
  1.63,0.52, 1.66,1.00, 1.69,0.30, 1.72,0.68, 1.75,1.12, 1.78,0.10, 1.81,0.45, 1.84,0.80, 1.87,0.25, 1.90,0.58,
  1.93,1.05, 1.96,0.18, 1.99,0.72, 2.02,0.35, 2.05,0.98, 2.08,0.12, 2.11,0.62, 2.14,1.10, 2.17,0.25, 2.20,0.85,
  2.23,0.48, 2.26,1.00, 2.29,0.15, 2.32,0.65, 2.35,0.90, 2.38,0.35, 2.41,0.78, 2.44,1.05, 2.47,0.22, 2.50,0.58,
  1.26,0.62, 1.47,0.48, 1.62,0.72, 1.73,0.35, 1.83,0.62, 1.97,0.50, 2.07,0.78, 1.55,0.25, 1.68,0.88, 1.38,0.70,
  2.00,0.20, 2.00,0.40, 2.00,0.62, 2.00,0.85, 2.00,1.02, 2.01,0.10,
  2.22,1.12, 2.25,0.75, 2.28,1.30, 2.31,0.95, 2.34,1.18, 2.37,0.70, 2.40,1.05, 2.43,1.38, 2.46,0.88, 2.49,1.22,
  2.52,1.45, 2.55,0.95, 2.58,1.15, 2.61,1.52, 2.64,1.02, 2.67,1.30, 2.70,0.85, 2.73,1.55, 2.76,1.18, 2.79,1.40,
  2.82,0.98, 2.85,1.65, 2.88,1.28, 2.91,1.50, 2.94,1.10, 2.97,1.72, 3.00,1.38, 3.03,1.60, 3.06,1.22, 3.09,1.82,
  3.12,1.48, 3.15,1.68, 3.18,1.35, 3.21,1.90, 3.24,1.58, 3.27,1.78, 3.30,2.00, 3.33,1.65, 2.60,0.75, 2.80,1.78,
  2.90,0.85, 3.05,1.95, 3.15,1.12, 2.50,1.60, 2.35,1.48, 2.70,1.68, 2.95,1.30, 3.10,1.62, 3.20,1.72, 2.45,1.12,
  2.65,1.42, 2.85,1.45, 3.00,1.50, 3.25,1.95, 3.35,2.08, 2.40,0.60, 2.55,1.28, 2.75,0.95, 3.08,1.40, 3.28,1.50,
  2.98,1.90, 3.18,2.05, 3.30,1.80, 2.68,1.10, 2.88,1.18, 3.12,1.80, 2.20,1.35, 2.30,1.60, 2.52,1.78, 2.62,1.85,
  3.10,2.18, 3.14,2.30, 3.18,2.10, 3.22,2.25, 3.26,2.40, 3.30,2.15, 3.34,2.32, 3.38,2.48, 3.42,2.22, 3.46,2.38,
  3.50,2.55, 3.54,2.28, 3.57,2.34, 3.60,2.30, 3.63,2.45, 3.66,2.33, 3.69,2.62, 3.72,2.35, 3.75,2.50, 3.78,2.32,
  3.81,2.68, 3.84,2.44, 3.87,2.58, 3.90,2.36, 3.93,2.75, 3.96,2.52, 3.98,2.64, 3.99,2.42, 3.99,2.85, 3.60,2.36,
  3.64,2.28, 3.68,2.38, 3.74,2.30, 3.80,2.40, 3.70,2.32, 3.58,2.26, 3.45,2.60, 3.55,2.70, 3.35,2.60, 3.25,2.52,
  3.95,2.90, 3.88,2.80, 3.76,2.40, 3.62,2.55, 3.48,2.45, 3.40,2.30, 3.28,2.30, 3.52,2.40, 3.86,2.48, 3.20,2.40,
  3.05,2.05, 3.00,2.30, 3.92,2.60, 3.44,2.20, 3.90,2.22, 3.97,2.32, 3.36,2.42,
  3.67,1.80, 3.86,1.77, 3.84,1.56, 3.76,1.44, 3.70,1.33, 3.48,1.22, 3.57,1.50, 3.95,1.95, 3.98,2.13, 3.40,1.40,
  3.55,1.05, 2.75,2.05, 1.38,1.70, 0.62,1.35, 3.50,1.85, 3.60,1.65, 3.45,1.75, 3.99,1.90, 3.42,2.00, 3.62,2.05
];
const edgeLeftD = [0.03, 0.11, 0.20, 0.28, 0.37, 0.45, 0.54, 0.62, 0.71, 0.79, 0.85];
const edgeBottomD = [1.02, 1.13, 1.25, 1.36, 1.48, 1.60, 1.71, 1.83, 1.94, 2.06, 2.18, 2.29];

// ---- styles ----
// marker textures: each '1' is one dot of the dot-plot
const coreDots = [
  [
    '110111011101',
    '011101110111',
    '111011011110',
    '101111101011',
    '110110111101',
    '011011101110'
  ],
  [
    '011101101110',
    '111011110101',
    '101110111011',
    '110111010111',
    '011101111010',
    '111010110111'
  ]
];
const midDots = [
  [
    '1010010110',
    '0101101001',
    '1001010100',
    '0110100101',
    '1010011010',
    '0101000101'
  ],
  [
    '0110101001',
    '1001010110',
    '0101101010',
    '1010010101',
    '0100101100',
    '1011010011'
  ]
];
const haloDots = [
  [
    '1000100010',
    '0010000101',
    '0100010000',
    '0001000010',
    '1000001001',
    '0010100000',
    '0100000100'
  ],
  [
    '0100001000',
    '1000100010',
    '0010000100',
    '0100010001',
    '0001000100',
    '1000100000',
    '0010001010'
  ],
  [
    '0010010001',
    '0100000100',
    '0001001000',
    '1000100010',
    '0010000001',
    '0100010100',
    '1000000010'
  ]
];
// piled-up events on the axis minimum: a short run of dots along the edge
const edgeVertical = ['1', '1', '1', '1', '1', '1', '1', '0', '1', '1', '1'];
const edgeHorizontal = ['11110111101'];

const AXIS_MIN = 1, AXIS_MAX = 10000;
const AXIS_W = 118, AXIS_H = 96, PAD_TOP = 56, PAD_RIGHT = 30;
const GATE = '#dd1616';
const DOT_DARK = '#c21b22';
const panels = [
  { id: 'plotA', box: { left: 118, top: 56, right: 870, bottom: 873 }, dense: denseA, halo: haloA, sparse: sparseA, left: edgeLeftA, bottom: edgeBottomA, core: 'core', letterDx: 37 },
  { id: 'plotB', box: { left: 1073, top: 50, right: 1822, bottom: 869 }, dense: denseB, halo: haloB, sparse: sparseB, left: edgeLeftB, bottom: edgeBottomB, core: 'core', letterDx: 34 },
  { id: 'plotC', box: { left: 118, top: 1014, right: 870, bottom: 1830 }, dense: denseC, halo: haloC, sparse: sparseC, left: edgeLeftC, bottom: edgeBottomC, core: 'core', letterDx: 42 },
  { id: 'plotD', box: { left: 1073, top: 1016, right: 1824, bottom: 1833 }, dense: denseD, halo: haloD, sparse: sparseD, left: edgeLeftD, bottom: edgeBottomD, core: 'mid', letterDx: 42 }
];

function toPoints(flat) {
  const pts = [];
  for (let i = 0; i < flat.length; i += 2) {
    pts.push({ x: Math.pow(10, flat[i]), y: Math.pow(10, flat[i + 1]) });
  }
  return pts;
}

function dotSprite(rows, cell, color) {
  const c = document.createElement('canvas');
  c.width = rows[0].length * cell;
  c.height = rows.length * cell;
  const g = c.getContext('2d');
  g.fillStyle = color;
  rows.forEach((row, r) => {
    for (let i = 0; i < row.length; i++) {
      if (row[i] === '1') g.fillRect(i * cell, r * cell, cell, cell);
    }
  });
  return c;
}

const sprites = {
  core: coreDots.map(r => dotSprite(r, 2, '#ff0a0a')),
  mid: midDots.map(r => dotSprite(r, 3, '#ea1212')),
  halo: haloDots.map(r => dotSprite(r, 3, DOT_DARK)),
  vEdge: dotSprite(edgeVertical, 2, '#d21a1a'),
  hEdge: dotSprite(edgeHorizontal, 2, DOT_DARK)
};
const pick = list => c => list[c.dataIndex % list.length];

// frame, quadrant numbers, labels
const decor = {
  id: 'decor',
  beforeDatasetsDraw(chart) {
    const a = chart.chartArea, ctx = chart.ctx;
    ctx.save();
    ctx.strokeStyle = '#000';
    ctx.lineWidth = 3;
    ctx.strokeRect(a.left, a.top, a.right - a.left, a.bottom - a.top);
    ctx.restore();
    ctx.imageSmoothingEnabled = false;
  },
  afterDraw(chart, args, o) {
    const a = chart.chartArea, ctx = chart.ctx;
    const xs = chart.scales.x, ys = chart.scales.y;
    ctx.save();
    ctx.fillStyle = '#111';
    ctx.textBaseline = 'alphabetic';

    ctx.font = '35px "DejaVu Sans"';
    ctx.letterSpacing = '0.5px';
    ctx.textAlign = 'left';
    ctx.fillText('Plot P02, gated on P01.R1', a.left - 4, a.top - 13);
    ctx.letterSpacing = '0px';

    ctx.font = 'bold 45px "Liberation Sans"';
    ctx.fillText(pctUpperLeft[o.idx], a.left + 12, a.top + 47);
    ctx.fillText(pctLowerLeft[o.idx], a.left + 12, a.bottom - 22);
    ctx.textAlign = 'right';
    ctx.fillText(pctUpperRight[o.idx], a.right - 27, a.top + 47);
    ctx.fillText(pctLowerRight[o.idx], a.right - 27, a.bottom - 22);

    ctx.textAlign = 'left';
    ctx.font = '76px "Liberation Serif"';
    ctx.fillText(panelLetters[o.idx], a.left + o.letterDx, a.top + 128);

    ctx.fillStyle = GATE;
    ctx.font = '31px "DejaVu Sans"';
    ctx.fillText('R2', xs.getPixelForValue(gateFL1) + 10, ys.getPixelForValue(gateFL2) - 28);

    ctx.fillStyle = '#111';
    // x tick labels 10^k
    decades.forEach(k => {
      const px = xs.getPixelForValue(Math.pow(10, k));
      ctx.font = '31px "Liberation Sans"';
      ctx.textAlign = 'right';
      ctx.fillText('10', px + 5, a.bottom + 44);
      ctx.font = '21px "Liberation Sans"';
      ctx.textAlign = 'left';
      ctx.fillText(String(k), px + 6, a.bottom + 27);
    });
    // y tick labels, rotated
    decades.forEach(k => {
      const py = ys.getPixelForValue(Math.pow(10, k));
      ctx.save();
      ctx.translate(a.left - 17, py);
      ctx.rotate(-Math.PI / 2);
      ctx.font = '33px "Liberation Sans"';
      const w1 = ctx.measureText('10').width;
      ctx.font = '22px "Liberation Sans"';
      const w2 = ctx.measureText(String(k)).width;
      const start = -(w1 + w2) / 2;
      ctx.textAlign = 'left';
      ctx.font = '33px "Liberation Sans"';
      ctx.fillText('10', start, 0);
      ctx.font = '22px "Liberation Sans"';
      ctx.fillText(String(k), start + w1 + 1, -17);
      ctx.restore();
    });

    // axis titles
    ctx.font = '35px "DejaVu Sans"';
    ctx.textAlign = 'center';
    ctx.fillText('FL 1-Height', (a.left + a.right) / 2, a.bottom + 77);
    ctx.save();
    ctx.translate(a.left - 69, (a.top + a.bottom) / 2 + 14);
    ctx.rotate(-Math.PI / 2);
    ctx.fillText('FL 2-Height', 0, 0);
    ctx.restore();

    ctx.restore();
  }
};

function logAxis(position, fit) {
  return {
    type: 'logarithmic',
    position: position,
    min: AXIS_MIN,
    max: AXIS_MAX,
    grid: { drawOnChartArea: false, drawTicks: true, tickLength: 8, color: '#000', lineWidth: 2 },
    border: { display: false },
    ticks: { display: false, autoSkip: false },
    afterFit: fit
  };
}

panels.forEach((p, idx) => {
  const cvs = document.getElementById(p.id);
  const w = p.box.right - p.box.left + AXIS_W + PAD_RIGHT;
  const h = p.box.bottom - p.box.top + PAD_TOP + AXIS_H;
  cvs.style.left = (p.box.left - AXIS_W) + 'px';
  cvs.style.top = (p.box.top - PAD_TOP) + 'px';
  cvs.width = w; cvs.height = h;
  cvs.style.width = w + 'px'; cvs.style.height = h + 'px';

  new Chart(cvs, {
    type: 'scatter',
    data: {
      datasets: [
        {
          label: 'gate handles',
          data: gateHandles.map(g => ({ x: g[0], y: g[1] })),
          pointStyle: 'circle', pointRadius: 9, borderWidth: 2.5,
          borderColor: GATE, backgroundColor: 'rgba(0,0,0,0)'
        },
        {
          type: 'line', label: 'FL1 gate',
          data: [{ x: gateFL1, y: AXIS_MIN }, { x: gateFL1, y: AXIS_MAX }],
          borderColor: GATE, borderWidth: 2.5, pointRadius: 0
        },
        {
          type: 'line', label: 'FL2 gate',
          data: [{ x: AXIS_MIN, y: gateFL2 }, { x: AXIS_MAX, y: gateFL2 }],
          borderColor: GATE, borderWidth: 2.5, pointRadius: 0
        },
        {
          label: 'events (sparse)',
          data: toPoints(p.sparse),
          pointStyle: 'rect', pointRadius: 2.2, borderWidth: 0,
          backgroundColor: DOT_DARK
        },
        {
          label: 'events at FL1 minimum',
          data: p.left.map(v => ({ x: AXIS_MIN, y: Math.pow(10, v) })),
          pointStyle: sprites.vEdge, pointRadius: 5
        },
        {
          label: 'events at FL2 minimum',
          data: p.bottom.map(v => ({ x: Math.pow(10, v), y: Math.pow(10, 0.025) })),
          pointStyle: sprites.hEdge, pointRadius: 5
        },
        {
          label: 'events (dense)',
          data: toPoints(p.dense),
          pointStyle: pick(sprites[p.core]), pointRadius: 5
        },
        {
          label: 'events (halo)',
          data: toPoints(p.halo),
          pointStyle: pick(sprites.halo), pointRadius: 5
        }
      ]
    },
    options: {
      responsive: false,
      animation: false,
      devicePixelRatio: 1,
      events: [],
      layout: { padding: { left: 0, top: PAD_TOP, right: PAD_RIGHT, bottom: 0 } },
      plugins: {
        legend: { display: false },
        tooltip: { enabled: false },
        decor: { idx: idx, letterDx: p.letterDx }
      },
      scales: {
        x: logAxis('bottom', s => { s.height = AXIS_H; }),
        y: logAxis('left', s => { s.width = AXIS_W; })
      }
    },
    plugins: [decor]
  });
});
</script>
</body>
</html>
